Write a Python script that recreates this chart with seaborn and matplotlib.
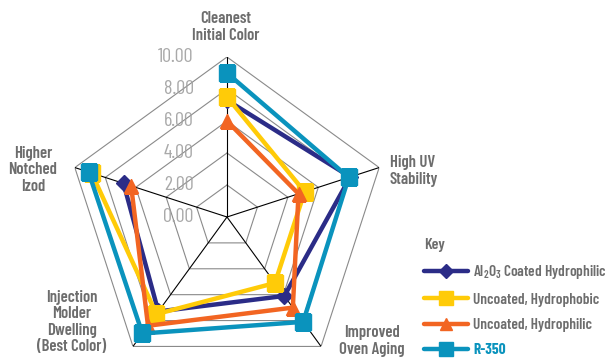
import numpy as np
import pandas as pd
import seaborn as sns
import matplotlib
matplotlib.use("Agg")
import matplotlib.pyplot as plt
from matplotlib.lines import Line2D

sns.set_style("white")
FONT = ["Barlow Condensed", "DejaVu Sans"]
plt.rcParams["font.family"] = FONT
plt.rcParams["mathtext.fontset"] = "custom"
plt.rcParams["mathtext.rm"] = "Barlow Condensed:semibold"
plt.rcParams["mathtext.it"] = "Barlow Condensed:semibold"
plt.rcParams["mathtext.bf"] = "Barlow Condensed:bold"

# ---- data ----
categories = ["Cleanest\nInitial Color", "High UV\nStability", "Improved\nOven Aging",
              "Injection\nMolder\nDwelling\n(Best Color)", "Higher\nNotched\nIzod"]
series_names = [r"Al$_2$O$_3$ Coated Hydrophilic", "Uncoated, Hydrophobic",
                "Uncoated, Hydrophilic", "R-350"]
al2o3 = [7.3, 8.1, 6.1, 7.3, 6.8]
hydrophobic = [7.5, 5.1, 5.1, 7.5, 8.9]
hydrophilic = [6.0, 4.7, 7.0, 8.4, 6.3]
r350 = [9.0, 8.0, 8.1, 9.0, 9.1]
tick_values = [0, 2, 4, 6, 8, 10]
tick_labels = ["0.00", "2.00", "4.00", "6.00", "8.00", "10.00"]

values = [al2o3, hydrophobic, hydrophilic, r350]
colors = ["#2b2c87", "#ffcb08", "#f26522", "#0a93bd"]
markers = ["D", "s", "^", "s"]
msizes = [8, 11, 10, 11]

n = len(categories)
theta = np.linspace(0, 2 * np.pi, n, endpoint=False)
theta_closed = np.append(theta, theta[0])

fig = plt.figure(figsize=(6.09, 3.58), dpi=100)
cx, cy, R = 227, 217, 160
W, H = 609, 358
ax = fig.add_axes([(cx - R) / W, (H - cy - R) / H, 2 * R / W, 2 * R / H], projection="polar")
ax.set_theta_offset(np.pi / 2)
ax.set_theta_direction(-1)
ax.set_ylim(0, 10)
ax.grid(False)
ax.spines["polar"].set_visible(False)
ax.set_xticks([])
ax.set_yticks([])
ax.set_facecolor("none")

# rings
for v in tick_values[1:]:
    ax.plot(theta_closed, [v] * (n + 1), color="#8a8a8a", lw=0.8, zorder=1)
# spokes
for t in theta:
    ax.plot([t, t], [0, 10], color="black", lw=0.8, zorder=1)

# tick labels to the left of the top spoke
for v, lab in zip(tick_values, tick_labels):
    ax.annotate(lab, xy=(0, v), xytext=(-24, 0), textcoords="offset points",
                ha="right", va="center", fontsize=14.5, color="#a0a0a0",
                family=FONT, fontweight="normal", alpha=0.9, zorder=8)

# series
for i, (name, vals) in enumerate(zip(series_names, values)):
    df = pd.DataFrame({"theta": theta_closed, "value": list(vals) + [vals[0]]})
    sns.lineplot(data=df, x="theta", y="value", sort=False, ax=ax, color=colors[i],
                 lw=3.2, zorder=3 + i, legend=False)
    ax.plot(theta, vals, ls="none", marker=markers[i], ms=msizes[i],
            color=colors[i], zorder=3 + i)
ax.set_xlabel("")
ax.set_ylabel("")

# category labels
label_style = dict(fontsize=12, fontweight="semibold", color="#6d6d6d", family=FONT,
                   linespacing=1.12)
fig.text(226 / W, 1 - 27 / H, categories[0], ha="center", va="center", **label_style)
fig.text(390 / W, 1 - 171 / H, categories[1], ha="left", va="center", **label_style)
fig.text(372 / W, 1 - 341 / H, categories[2], ha="center", va="center", **label_style)
fig.text(72 / W, 1 - 322 / H, categories[3], ha="center", va="center", **label_style)
fig.text(33 / W, 1 - 170 / H, categories[4], ha="center", va="center", **label_style)

# legend
handles = [Line2D([0], [0], color=colors[i], lw=3.2, marker=markers[i],
                  ms=msizes[i] - 1) for i in range(4)]
leg = fig.legend(handles, series_names, loc="upper left",
                 bbox_to_anchor=(418 / W, 1 - 232 / H), frameon=False,
                 title="Key", alignment="left", handlelength=2.9,
                 labelspacing=0.74, handletextpad=0.3, borderaxespad=0,
                 prop={"family": FONT, "size": 11, "weight": "semibold"},
                 title_fontproperties={"family": FONT, "size": 11.5, "weight": "semibold"})
leg.get_title().set_color("#6d6d6d")
for i, t in enumerate(leg.get_texts()):
    t.set_color("#0a93bd" if i == 3 else "#6d6d6d")
leg.get_texts()[3].set_fontweight("bold")

fig.savefig("out.png", dpi=100)
